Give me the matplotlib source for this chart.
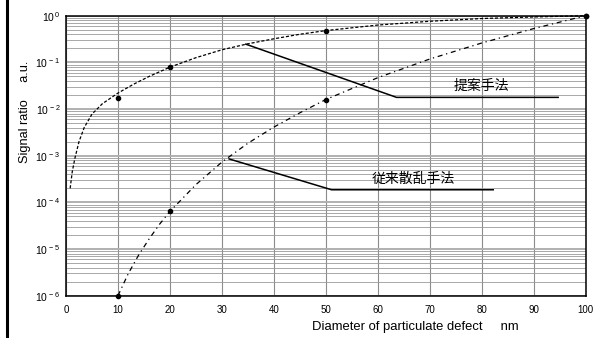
import matplotlib
matplotlib.use('Agg')
import matplotlib.pyplot as plt
from matplotlib.lines import Line2D
import numpy as np

plt.rcParams['font.family'] = ['Liberation Sans', 'Noto Sans CJK JP', 'DejaVu Sans']
plt.rcParams['mathtext.fontset'] = 'custom'
plt.rcParams['mathtext.rm'] = 'Liberation Sans'
plt.rcParams['mathtext.it'] = 'Liberation Sans'

# proposed method curve
prop_x = [0.8, 1.2, 1.7, 2.5, 3.5, 5, 7, 10, 13, 16, 20, 25, 30, 35, 40, 45,
          50, 60, 70, 80, 90, 100]
prop_y = [2.0e-4, 4.5e-4, 8.7e-4, 2.0e-3, 4.0e-3, 7.8e-3, 1.3e-2, 2.2e-2,
          3.4e-2, 5.0e-2, 7.9e-2, 0.126, 0.186, 0.25, 0.32, 0.40,
          0.48, 0.63, 0.76, 0.87, 0.94, 1.0]
prop_dot_x = [10, 20, 50, 100]
prop_dot_y = [1.7e-2, 8.1e-2, 0.48, 1.0]

# conventional scattering method curve
conv_x = [10, 12, 14, 16, 18, 20, 25, 30, 35, 40, 45, 50, 60, 70, 80, 90, 100]
conv_y = [1.0e-6, 3.0e-6, 7.5e-6, 1.65e-5, 3.4e-5, 6.4e-5, 2.4e-4, 7.3e-4,
          1.85e-3, 4.1e-3, 8.3e-3, 1.6e-2, 4.7e-2, 0.118, 0.26, 0.53, 1.0]
conv_dot_x = [10, 20, 50, 100]
conv_dot_y = [1.0e-6, 6.5e-5, 1.6e-2, 1.0]

x_ticks = [0, 10, 20, 30, 40, 50, 60, 70, 80, 90, 100]
y_ticks = [1e-6, 1e-5, 1e-4, 1e-3, 1e-2, 1e-1, 1e0]
y_ticklabels = [r'$10^{\,-6}$', r'$10^{\,-5}$', r'$10^{\,-4}$', r'$10^{\,-3}$',
                r'$10^{\,-2}$', r'$10^{\,-1}$', r'$10^{\,0}$']

fig = plt.figure(figsize=(5.95, 3.38), dpi=100)
ax = fig.add_axes([66/595, 1-295.7/338, 519.7/595, 280/338])

ax.set_yscale('log')
ax.set_xlim(0, 100)
ax.set_ylim(1e-6, 1)

# grid
ax.set_xticks(x_ticks)
ax.set_yticks(y_ticks)
ax.set_yticklabels(y_ticklabels)
ax.yaxis.set_minor_locator(matplotlib.ticker.LogLocator(base=10, subs=np.arange(2, 10)))
ax.yaxis.set_minor_formatter(matplotlib.ticker.NullFormatter())
ax.grid(True, which='major', axis='x', color='#8c8c8c', lw=0.8)
ax.grid(True, which='major', axis='y', color='#b0b0b0', lw=1.4)
ax.grid(True, which='minor', axis='y', color='#9a9a9a', lw=0.6)
ax.tick_params(which='both', length=0)
ax.tick_params(axis='x', labelsize=7, pad=7)
ax.tick_params(axis='y', labelsize=7.5, pad=4)
for s in ax.spines.values():
    s.set_linewidth(1.1)

ax.plot(prop_x, prop_y, color='black', lw=0.9, dashes=(2.5, 1.5), clip_on=False)
ax.plot(conv_x, conv_y, color='black', lw=0.9, dashes=(4, 3, 1, 3), clip_on=False)
ax.plot(prop_dot_x, prop_dot_y, 'o', color='black', ms=3, clip_on=False)
ax.plot(conv_dot_x, conv_dot_y, 'o', color='black', ms=3, clip_on=False)

# leader lines and labels
ax.plot([34.6, 63.6, 94.7], [10**-0.61, 10**-1.75, 10**-1.75], color='black', lw=1.1)
ax.text(80, 10**-1.66, '提案手法', ha='center', va='bottom', fontsize=10,
        family=['Noto Sans CJK JP'])
ax.plot([31.4, 51.1, 82.2], [10**-3.07, 10**-3.73, 10**-3.73], color='black', lw=1.1)
ax.text(66.8, 10**-3.64, '従来散乱手法', ha='center', va='bottom', fontsize=10,
        family=['Noto Sans CJK JP'])

fig.text(415/595, 1-327/338, 'Diameter of particulate defect     nm',
         ha='center', va='center', fontsize=9.4)
fig.text(25/595, 1-112/338, 'Signal ratio     a.u.', rotation=90,
         ha='center', va='center', fontsize=9.2)

fig.add_artist(Line2D([7/595, 7/595], [0, 1], color='black', lw=2.2))

fig.savefig('out.png', dpi=100)
